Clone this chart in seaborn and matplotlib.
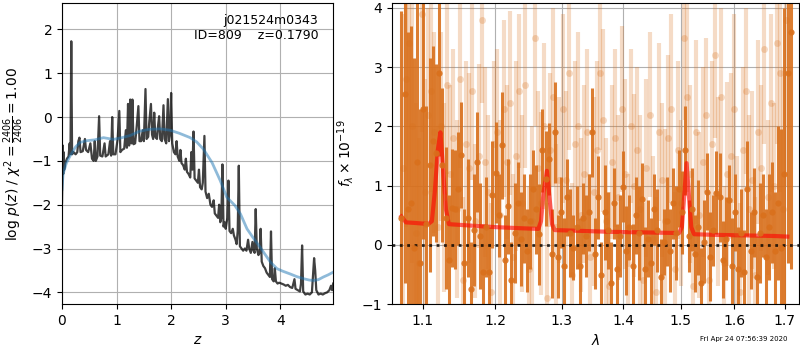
import matplotlib
matplotlib.use("Agg")
import matplotlib.pyplot as plt
import matplotlib.ticker as mticker
import numpy as np
import pandas as pd
import seaborn as sns

# ---------------- data: left panel (p(z)) ----------------
z_pz = [0.000, 0.010, 0.015, 0.022, 0.030, 0.040, 0.060, 0.090, 0.120, 0.140, 0.155, 0.170, 0.185,
        0.21, 0.25, 0.28, 0.30, 0.32, 0.34, 0.38, 0.42, 0.44, 0.48, 0.52, 0.55, 0.58, 0.60, 0.62,
        0.65, 0.68, 0.70, 0.74, 0.78, 0.80, 0.85, 0.88, 0.90, 0.92, 0.94, 0.98, 1.02, 1.05, 1.07,
        1.10, 1.14, 1.17, 1.19, 1.21, 1.23, 1.25, 1.27, 1.29, 1.31, 1.34, 1.37, 1.40, 1.42, 1.45,
        1.48, 1.50, 1.53, 1.55, 1.58, 1.60, 1.63, 1.65, 1.67, 1.69, 1.71, 1.74, 1.76, 1.78, 1.80,
        1.83, 1.86, 1.88, 1.91, 1.94, 1.96, 1.98, 2.00, 2.02, 2.05, 2.08, 2.10, 2.12, 2.15, 2.17,
        2.19, 2.22, 2.25, 2.27, 2.29, 2.32, 2.35, 2.37, 2.39, 2.41, 2.43, 2.46, 2.49, 2.51, 2.53,
        2.56, 2.58, 2.61, 2.63, 2.66, 2.69, 2.72, 2.75, 2.78, 2.80, 2.83, 2.86, 2.88, 2.90, 2.92,
        2.94, 2.96, 2.98, 3.00, 3.03, 3.05, 3.07, 3.10, 3.13, 3.15, 3.18, 3.20, 3.22, 3.24, 3.26,
        3.29, 3.32, 3.35, 3.38, 3.41, 3.43, 3.46, 3.49, 3.51, 3.53, 3.55, 3.57, 3.60, 3.62, 3.64,
        3.66, 3.69, 3.72, 3.75, 3.78, 3.81, 3.83, 3.85, 3.88, 3.90, 3.92, 3.95, 3.98, 4.02, 4.06,
        4.10, 4.14, 4.18, 4.22, 4.26, 4.28, 4.32, 4.36, 4.38, 4.40, 4.42, 4.46, 4.50, 4.54, 4.58,
        4.60, 4.62, 4.64, 4.66, 4.70, 4.74, 4.78, 4.82, 4.86, 4.90, 4.93, 4.95, 4.97]
logp = [-1.95, -1.20, -0.65, -1.30, -0.80, -1.20, -1.05, -0.95, -0.90, -0.60, -0.85, 1.73, -0.85,
        -0.80, -0.85, -0.80, -0.55, -0.47, -0.80, -0.78, -0.50, -0.75, -0.80, -0.60, -0.95, -1.00, -0.55, -1.00,
        -0.90, 0.02, -0.88, -0.90, -0.60, -0.90, -0.85, -0.55, -0.88, 0.00, -0.85, -0.85, -0.50, 0.14, -0.80,
        -0.75, -0.72, -0.30, -0.70, 0.30, -0.65, 0.40, -0.60, 0.40, -0.62, -0.60, -0.20, 0.25, -0.55, -0.55,
        -0.30, -0.55, 0.64, -0.50, -0.45, -0.10, 0.30, -0.40, -0.50, 0.10, -0.45, -0.50, -0.20, 0.02, -0.50,
        -0.55, 0.27, -0.50, -0.60, 0.41, -0.55, -0.40, 0.55, -0.60, -0.80, -0.85, -0.55, -0.90, -1.00, -0.75,
        -1.05, -1.10, -1.20, -0.95, -1.25, -1.30, -1.38, -0.80, -1.20, -0.33, -1.40, -1.45, -1.50, -1.20, -1.60,
        -1.65, -1.50, -0.43, -1.70, -1.85, -1.75, -2.00, -2.05, -1.90, -2.20, -2.25, -2.30, -2.00, -2.40, -2.30,
        -1.08, -2.50, -2.40, -2.55, -2.30, -1.45, -2.60, -2.65, -2.55, -2.70, -2.80, -2.90, -2.60, -1.11, -2.95,
        -3.00, -3.05, -3.00, -3.05, -2.80, -3.00, -3.10, -2.85, -3.05, -3.10, -2.10, -3.00, -3.15, -3.10, -2.55,
        -3.30, -3.40, -3.45, -3.55, -3.60, -3.65, -2.61, -3.70, -3.75, -3.45, -3.75, -3.80, -3.78, -3.80, -3.82,
        -3.85, -3.83, -3.88, -3.90, -3.70, -3.92, -3.95, -3.98, -3.80, -2.93, -3.98, -4.05, -4.03, -4.05, -4.00,
        -3.60, -3.22, -3.50, -3.95, -4.05, -4.03, -4.05, -4.02, -4.00, -3.95, -3.85, -3.95, -3.80]

z_prior = [0.0, 0.02, 0.08, 0.15, 0.25, 0.33, 0.45, 0.60, 0.76, 0.94, 1.10, 1.25, 1.43, 1.60, 1.80,
           1.98, 2.15, 2.35, 2.47, 2.59, 2.75, 2.90, 3.02, 3.17, 3.27, 3.39, 3.50, 3.63, 3.73, 3.82,
           3.94, 4.05, 4.18, 4.30, 4.43, 4.53, 4.61, 4.70, 4.79, 4.88, 4.97]
prior = [-1.65, -1.30, -1.05, -0.88, -0.68, -0.58, -0.54, -0.52, -0.47, -0.51, -0.47, -0.42, -0.32, -0.28, -0.27,
         -0.30, -0.37, -0.47, -0.57, -0.73, -1.04, -1.45, -1.83, -2.02, -2.21, -2.55, -2.75, -2.97, -3.15, -3.31,
         -3.46, -3.52, -3.58, -3.64, -3.69, -3.72, -3.73, -3.71, -3.65, -3.60, -3.54]

# ---------------- data: right panel (spectrum) ----------------
lam_dark = [1.0720, 1.0761, 1.0802, 1.0843, 1.0884, 1.0925, 1.0966, 1.1007, 1.1048, 1.1090,
            1.1133, 1.1176, 1.1219, 1.1262, 1.1305, 1.1348, 1.1391, 1.1434, 1.1477, 1.1520,
            1.1564, 1.1608, 1.1652, 1.1696, 1.1740, 1.1784, 1.1828, 1.1872, 1.1916, 1.1960,
            1.2006, 1.2052, 1.2098, 1.2144, 1.2190, 1.2236, 1.2282, 1.2328, 1.2374, 1.2420,
            1.2467, 1.2514, 1.2561, 1.2608, 1.2655, 1.2702, 1.2749, 1.2796, 1.2843, 1.2890,
            1.2939, 1.2988, 1.3037, 1.3086, 1.3135, 1.3184, 1.3233, 1.3282, 1.3331, 1.3380,
            1.3431, 1.3482, 1.3533, 1.3584, 1.3635, 1.3686, 1.3737, 1.3788, 1.3839, 1.3890,
            1.3943, 1.3996, 1.4049, 1.4102, 1.4155, 1.4208, 1.4261, 1.4314, 1.4367, 1.4420,
            1.4475, 1.4530, 1.4585, 1.4640, 1.4695, 1.4750, 1.4805, 1.4860, 1.4915, 1.4970,
            1.5027, 1.5084, 1.5141, 1.5198, 1.5255, 1.5312, 1.5369, 1.5426, 1.5483, 1.5540,
            1.5599, 1.5658, 1.5717, 1.5776, 1.5835, 1.5894, 1.5953, 1.6012, 1.6071, 1.6130,
            1.6191, 1.6252, 1.6313, 1.6374, 1.6435, 1.6496, 1.6557, 1.6618, 1.6679, 1.6740,
            1.6803, 1.6866, 1.6929, 1.6992, 1.7055, 1.7118]
flux_dark = [0.45, 2.55, 0.60, 0.70, -0.05, 1.40, -0.30, 2.30, 0.35, 1.35,
             1.75, 1.55, 2.90, 1.35, 0.45, -0.25, 0.62, 0.60, 0.95, 1.52,
             -0.30, 0.45, -0.75, 0.25, 1.40, 0.15, -0.45, 0.30, -0.45, 0.85,
             1.22, 0.50, 1.68, -0.25, 0.65, -0.60, 0.20, 0.70, 0.10, 0.45,
             -0.10, 0.40, 0.95, 0.60, 0.18, 1.60, 1.12, 1.45, -0.15, 1.90,
             -0.20, 0.55, -0.35, 0.80, 0.20, -0.05, 0.30, -0.35, 0.45, 0.15,
             0.55, 1.90, -0.15, 0.80, -0.50, 0.55, 0.25, -0.65, 0.70, -0.40,
             0.15, 0.98, -0.10, 0.30, -0.35, 0.50, 0.20, 0.78, -0.40, 0.10,
             -0.30, 0.60, 0.25, -0.55, 0.05, 0.40, -0.10, 0.70, 0.20, 0.95,
             0.55, 1.60, 0.15, 0.60, -0.15, 0.30, -0.65, 0.05, 0.90, -0.20,
             0.25, 0.88, 0.80, -0.25, 0.10, 0.75, -0.35, 0.55, -0.40, 0.20,
             -0.45, 0.95, -0.10, 0.55, -0.55, 0.20, 0.50, -0.20, 0.30, 0.55,
             -0.10, 0.70, -0.05, 1.20, 2.90, 3.60]
err_dark = [3.5, 3.2, 3.0, 3.0, 3.2, 2.8, 2.6, 2.2, 2.0, 1.8,
            1.6, 1.5, 1.4, 1.3, 1.2, 1.1, 1.0, 1.0, 0.95, 0.9,
            0.9, 1.0, 0.8, 0.95, 0.85, 0.9, 0.8, 0.85, 0.75, 0.9,
            0.85, 0.7, 0.9, 0.75, 0.8, 0.65, 0.85, 0.7, 0.8, 0.75,
            0.7, 0.8, 0.65, 0.75, 0.85, 0.7, 0.8, 0.6, 0.75, 0.85,
            0.7, 0.6, 0.8, 0.65, 0.75, 0.55, 0.7, 0.8, 0.6, 0.7,
            0.65, 0.75, 0.6, 0.7, 0.55, 0.8, 0.65, 0.7, 0.6, 0.75,
            0.7, 0.6, 0.75, 0.55, 0.7, 0.65, 0.8, 0.6, 0.7, 0.65,
            0.75, 0.6, 0.7, 0.65, 0.55, 0.75, 0.7, 0.6, 0.8, 0.65,
            0.7, 0.75, 0.6, 0.7, 0.65, 0.8, 0.6, 0.7, 0.65, 0.75,
            0.6, 0.7, 0.75, 0.65, 0.7, 0.6, 0.8, 0.65, 0.7, 0.75,
            0.7, 0.8, 0.65, 0.75, 0.7, 0.85, 0.7, 0.8, 0.9, 0.85,
            1.0, 1.3, 2.0, 2.8, 3.2, 4.0]

lam_light = [1.0741, 1.0782, 1.0823, 1.0864, 1.0905, 1.0946, 1.0987, 1.1028, 1.1069, 1.1111,
             1.1155, 1.1198, 1.1241, 1.1284, 1.1327, 1.1370, 1.1413, 1.1456, 1.1499, 1.1542,
             1.1586, 1.1630, 1.1674, 1.1718, 1.1762, 1.1806, 1.1850, 1.1894, 1.1938, 1.1983,
             1.2029, 1.2075, 1.2121, 1.2167, 1.2213, 1.2259, 1.2305, 1.2351, 1.2397, 1.2443,
             1.2491, 1.2538, 1.2585, 1.2632, 1.2679, 1.2726, 1.2773, 1.2820, 1.2867, 1.2914,
             1.2964, 1.3013, 1.3062, 1.3111, 1.3160, 1.3209, 1.3258, 1.3307, 1.3356, 1.3405,
             1.3457, 1.3508, 1.3559, 1.3610, 1.3661, 1.3712, 1.3763, 1.3814, 1.3865, 1.3916,
             1.3970, 1.4023, 1.4076, 1.4129, 1.4182, 1.4235, 1.4288, 1.4341, 1.4394, 1.4447,
             1.4503, 1.4558, 1.4613, 1.4668, 1.4723, 1.4778, 1.4833, 1.4888, 1.4943, 1.4998,
             1.5056, 1.5113, 1.5170, 1.5227, 1.5284, 1.5341, 1.5398, 1.5455, 1.5512, 1.5569,
             1.5629, 1.5688, 1.5747, 1.5806, 1.5865, 1.5924, 1.5983, 1.6042, 1.6101, 1.6160,
             1.6222, 1.6283, 1.6344, 1.6405, 1.6466, 1.6527, 1.6588, 1.6649, 1.6710, 1.6771,
             1.6835, 1.6898, 1.6961, 1.7024]
flux_light = [1.3, 2.8, 3.4, 2.0, 0.2, -0.3, 3.9, 0.9, 2.2, 2.6,
              1.9, 0.3, 2.0, 0.8, 2.7, 1.2, 1.8, 0.6, 2.8, -0.6,
              1.7, 1.3, 2.6, 0.4, 1.5, 3.8, 1.4, 0.9, -0.8, 1.7,
              1.9, 0.5, 2.3, 1.4, 2.4, -0.2, 1.5, 2.6, 0.7, 2.7,
              -0.4, 0.4, 3.5, 1.3, 0.7, 2.0, -0.9, 1.6, 2.5, 0.3,
              1.1, 2.3, 1.1, 2.9, -0.5, 1.7, 2.0, 0.5, 1.2, 1.9,
              -0.2, 0.9, 1.6, 2.9, 2.1, 0.4, -0.7, 1.4, 1.8, 0.8,
              2.3, 1.2, -0.3, 2.0, 1.0, 1.6, 0.6, -0.6, 1.3, 2.2,
              0.1, -0.8, 1.9, 1.1, 0.4, 1.8, 2.3, -0.4, 1.6, 0.7,
              3.5, 2.5, 1.2, -0.7, 1.9, 0.5, 1.4, 2.2, -0.6, 1.7,
              3.2, 0.9, 2.5, -0.3, 1.2, 1.5, 2.3, 0.2, -0.8, 1.6,
              2.6, 0.6, 1.1, -0.5, 1.9, 1.3, 3.3, 0.8, 2.4, 1.0,
              3.4, 2.9, 0.6, 3.8]
err_light = [2.6, 2.5, 2.4, 2.3, 2.2, 2.1, 2.0, 1.9, 1.8, 1.7,
             1.7, 1.7, 1.6, 1.6, 1.5, 1.5, 1.5, 1.5, 1.5, 1.4,
             1.4, 1.6, 1.5, 1.3, 1.55, 1.4, 1.6, 1.3, 1.5, 1.4,
             1.4, 1.6, 1.5, 1.3, 1.55, 1.4, 1.6, 1.3, 1.5, 1.4,
             1.4, 1.6, 1.5, 1.3, 1.55, 1.4, 1.6, 1.3, 1.5, 1.4,
             1.4, 1.6, 1.5, 1.3, 1.55, 1.4, 1.6, 1.3, 1.5, 1.4,
             1.4, 1.6, 1.5, 1.3, 1.55, 1.4, 1.6, 1.3, 1.5, 1.4,
             1.4, 1.6, 1.5, 1.3, 1.55, 1.4, 1.6, 1.3, 1.5, 1.4,
             1.4, 1.6, 1.5, 1.3, 1.55, 1.4, 1.6, 1.3, 1.5, 1.4,
             1.4, 1.6, 1.5, 1.3, 1.55, 1.4, 1.6, 1.3, 1.5, 1.4,
             1.4, 1.6, 1.5, 1.3, 1.55, 1.4, 1.6, 1.3, 1.5, 1.4,
             1.4, 1.6, 1.5, 1.3, 1.55, 1.4, 1.6, 1.3, 1.5, 1.4,
             1.7, 2.0, 2.4, 2.8]

lam_model = [1.072, 1.078, 1.090, 1.100, 1.108, 1.112, 1.116, 1.120, 1.1235, 1.127, 1.131, 1.135,
             1.160, 1.200, 1.240, 1.264, 1.268, 1.272, 1.277, 1.281, 1.285, 1.289, 1.320, 1.380,
             1.440, 1.497, 1.502, 1.506, 1.5105, 1.515, 1.519, 1.524, 1.560, 1.620, 1.680, 1.705]
flux_model = [0.48, 0.38, 0.37, 0.36, 0.36, 0.40, 0.90, 1.60, 1.90, 1.30, 0.60, 0.35,
              0.33, 0.30, 0.28, 0.27, 0.40, 0.90, 1.25, 0.80, 0.35, 0.25, 0.24, 0.22,
              0.21, 0.20, 0.30, 0.80, 1.38, 0.80, 0.30, 0.18, 0.17, 0.16, 0.15, 0.14]

x_ticks_right = [1.1, 1.2, 1.3, 1.4, 1.5, 1.6, 1.7]

# ---------------- figure ----------------
fig = plt.figure(figsize=(8, 3.5), dpi=100)
ax1 = fig.add_axes([0.0775, 0.131, 0.339, 0.86])
ax2 = fig.add_axes([0.49, 0.131, 0.509, 0.86])

df_pz = pd.DataFrame({"z": z_pz, "logp": logp})
df_prior = pd.DataFrame({"z": z_prior, "prior": prior})

ax1.grid(True, color="#b0b0b0", lw=0.8)
sns.lineplot(data=df_pz, x="z", y="logp", ax=ax1, color="k", alpha=0.75, lw=1.6,
             sort=False, estimator=None)
sns.lineplot(data=df_prior, x="z", y="prior", ax=ax1, color="#1f77b4", alpha=0.5, lw=2,
             sort=False, estimator=None)
ax1.set_xlim(0, 4.97)
ax1.set_ylim(-4.27, 2.6)
ax1.set_xticks([0, 1, 2, 3, 4])
ax1.set_yticks([-4, -3, -2, -1, 0, 1, 2])
ax1.set_xlabel(r"$z$")
ax1.set_ylabel(r"log $p(z)$ / $\chi^2=\frac{2406}{2406}=1.00$")
ax1.text(0.945, 0.963, "j021524m0343\nID=809    z=0.1790", ha="right", va="top",
         transform=ax1.transAxes, fontsize=9)

# right panel
col = "#d9701c"
ax2.grid(True, color="#b0b0b0", lw=0.8)
ax2.errorbar(lam_light, flux_light, yerr=err_light, fmt="o", color=col, alpha=0.25,
             ms=5, elinewidth=3, capsize=0, mew=0)
ax2.errorbar(lam_dark, flux_dark, yerr=err_dark, fmt="o", color=col, alpha=0.9,
             ms=4.5, elinewidth=2.2, capsize=0, mew=0)
df_model = pd.DataFrame({"lam": lam_model, "flux": flux_model})
sns.lineplot(data=df_model, x="lam", y="flux", ax=ax2, color="red", alpha=0.6, lw=3,
             sort=False, estimator=None)
ax2.axhline(0, color="k", ls=":", lw=2, alpha=0.8)
ax2.set_xscale("log")
ax2.set_xlim(1.06, 1.7295)
ax2.set_ylim(-1.0, 4.08)
ax2.xaxis.set_major_locator(mticker.FixedLocator(x_ticks_right))
ax2.xaxis.set_major_formatter(mticker.FormatStrFormatter("%.1f"))
ax2.xaxis.set_minor_locator(mticker.NullLocator())
ax2.set_yticks([-1, 0, 1, 2, 3, 4])
ax2.set_xlabel(r"$\lambda$")
ax2.set_ylabel(r"$f_\lambda\times10^{-19}$")

fig.text(0.985, 0.022, "Fri Apr 24 07:56:39 2020", ha="right", va="bottom", fontsize=5)

fig.savefig("out.png", dpi=100)
